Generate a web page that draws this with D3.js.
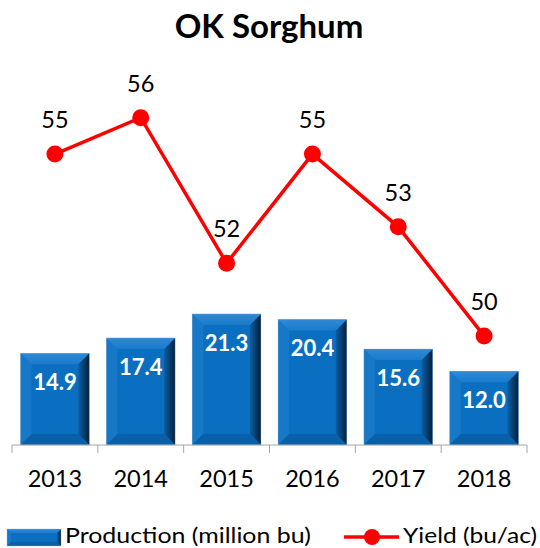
<!DOCTYPE html>
<html>
<head>
<meta charset="utf-8">
<script src="https://cdn.jsdelivr.net/npm/d3@7"></script>
<style>
  body { margin: 0; background: #fff; }
  svg { display: block; font-family: Lato, "Open Sans", sans-serif; }
</style>
</head>
<body>
<svg id="chart"></svg>
<script>
// Chart data
const years = ["2013", "2014", "2015", "2016", "2017", "2018"];
const production = [14.9, 17.4, 21.3, 20.4, 15.6, 12.0];
const yieldVals = [55, 56, 52, 55, 53, 50];

const width = 540, height = 548;
const plot = { left: 12, right: 527, top: 45, bottom: 445 };

const svg = d3.select("#chart")
    .attr("width", width)
    .attr("height", height);

// Gradients for bevelled bars
const defs = svg.append("defs");
const rightGrad = defs.append("linearGradient").attr("id", "rightBevel")
    .attr("x1", "0").attr("x2", "1").attr("y1", "0").attr("y2", "0");
rightGrad.append("stop").attr("offset", "0%").attr("stop-color", "#0a5fa6");
rightGrad.append("stop").attr("offset", "100%").attr("stop-color", "#051f38");
const topGrad = defs.append("linearGradient").attr("id", "topBevel")
    .attr("x1", "0").attr("x2", "0").attr("y1", "0").attr("y2", "1");
topGrad.append("stop").attr("offset", "0%").attr("stop-color", "#2e8ad6");
topGrad.append("stop").attr("offset", "100%").attr("stop-color", "#1a7bcc");

// Scales
const x = d3.scaleBand()
    .domain(years)
    .range([plot.left, plot.right])
    .paddingInner(0.2)
    .paddingOuter(0.1);

const yBar = d3.scaleLinear().domain([0, 65]).range([plot.bottom, plot.top]);
const yLine = d3.scaleLinear().domain([47, 58]).range([plot.bottom, plot.top]);

// Title
svg.append("text")
    .attr("x", 269)
    .attr("y", 38)
    .attr("text-anchor", "middle")
    .style("font-size", "33px")
    .style("font-weight", "bold")
    .text("OK Sorghum");

// Bevelled bar helper
function bevelBar(g, bx, by, bw, bh, b) {
    g.append("rect").attr("x", bx).attr("y", by).attr("width", bw).attr("height", bh)
        .attr("fill", "#0b6fc1");
    // left bevel
    g.append("polygon")
        .attr("points", [[bx, by], [bx + b, by + b], [bx + b, by + bh - b], [bx, by + bh]].join(" "))
        .attr("fill", "#1778c8");
    // right bevel
    g.append("polygon")
        .attr("points", [[bx + bw, by], [bx + bw, by + bh], [bx + bw - b, by + bh - b], [bx + bw - b, by + b]].join(" "))
        .attr("fill", "url(#rightBevel)");
    // bottom bevel
    g.append("polygon")
        .attr("points", [[bx, by + bh], [bx + bw, by + bh], [bx + bw - b, by + bh - b], [bx + b, by + bh - b]].join(" "))
        .attr("fill", "#0960a8");
    // top bevel
    g.append("polygon")
        .attr("points", [[bx, by], [bx + bw, by], [bx + bw - b, by + b], [bx + b, by + b]].join(" "))
        .attr("fill", "url(#topBevel)");
    g.append("rect").attr("x", bx).attr("y", by).attr("width", bw).attr("height", bh)
        .attr("fill", "none").attr("stroke", "#8fb4d6").attr("stroke-width", 0.6).attr("stroke-opacity", 0.6);
}

// Bars
years.forEach((yr, i) => {
    const g = svg.append("g");
    const bx = x(yr), by = yBar(production[i]);
    bevelBar(g, bx, by, x.bandwidth(), plot.bottom - by, 11);
});

// Bar labels
svg.selectAll(".bar-label")
    .data(production)
    .enter().append("text")
    .attr("class", "bar-label")
    .attr("x", (d, i) => x(years[i]) + x.bandwidth() / 2)
    .attr("y", d => yBar(d) + 37)
    .attr("text-anchor", "middle")
    .attr("fill", "#fff")
    .style("font-size", "22px")
    .style("font-weight", "bold")
    .text(d => d.toFixed(1));

// X axis
const axis = svg.append("g")
    .attr("transform", `translate(0,${plot.bottom})`)
    .call(d3.axisBottom(x).tickSize(0).tickPadding(0).tickFormat(""));
axis.select(".domain").attr("stroke", "#a6a6a6").attr("d", `M${plot.left},0H${plot.right}`);
const step = x.step();
d3.range(years.length + 1).forEach(i => {
    axis.append("line")
        .attr("x1", plot.left + i * step).attr("x2", plot.left + i * step)
        .attr("y1", 0).attr("y2", 8)
        .attr("stroke", "#a6a6a6");
});
svg.selectAll(".year-label")
    .data(years)
    .enter().append("text")
    .attr("class", "year-label")
    .attr("x", d => x(d) + x.bandwidth() / 2)
    .attr("y", 487)
    .attr("text-anchor", "middle")
    .attr("fill", "#000")
    .style("font-size", "23.5px")
    .text(d => d);

// Yield line
const line = d3.line()
    .x((d, i) => x(years[i]) + x.bandwidth() / 2)
    .y(d => yLine(d));

svg.append("path")
    .datum(yieldVals)
    .attr("fill", "none")
    .attr("stroke", "#ff0000")
    .attr("stroke-width", 3.5)
    .attr("d", line);

svg.selectAll(".yield-dot")
    .data(yieldVals)
    .enter().append("circle")
    .attr("class", "yield-dot")
    .attr("cx", (d, i) => x(years[i]) + x.bandwidth() / 2)
    .attr("cy", d => yLine(d))
    .attr("r", 8.5)
    .attr("fill", "#ff0000");

svg.selectAll(".yield-label")
    .data(yieldVals)
    .enter().append("text")
    .attr("class", "yield-label")
    .attr("x", (d, i) => x(years[i]) + x.bandwidth() / 2)
    .attr("y", d => yLine(d) - 26)
    .attr("text-anchor", "middle")
    .attr("fill", "#000")
    .style("font-size", "23.5px")
    .text(d => d);

// Legend
const legend = svg.append("g");
bevelBar(legend.append("g"), 7, 529, 54, 17, 4);
legend.append("text")
    .attr("x", 65).attr("y", 543)
    .attr("textLength", 246).attr("lengthAdjust", "spacingAndGlyphs")
    .style("font-size", "21px")
    .text("Production (million bu)");
legend.append("line")
    .attr("x1", 344).attr("x2", 399).attr("y1", 537).attr("y2", 537)
    .attr("stroke", "#ff0000").attr("stroke-width", 3.5);
legend.append("circle")
    .attr("cx", 372).attr("cy", 537).attr("r", 8)
    .attr("fill", "#ff0000");
legend.append("text")
    .attr("x", 403).attr("y", 543)
    .attr("textLength", 134).attr("lengthAdjust", "spacingAndGlyphs")
    .style("font-size", "21px")
    .text("Yield (bu/ac)");
</script>
</body>
</html>
